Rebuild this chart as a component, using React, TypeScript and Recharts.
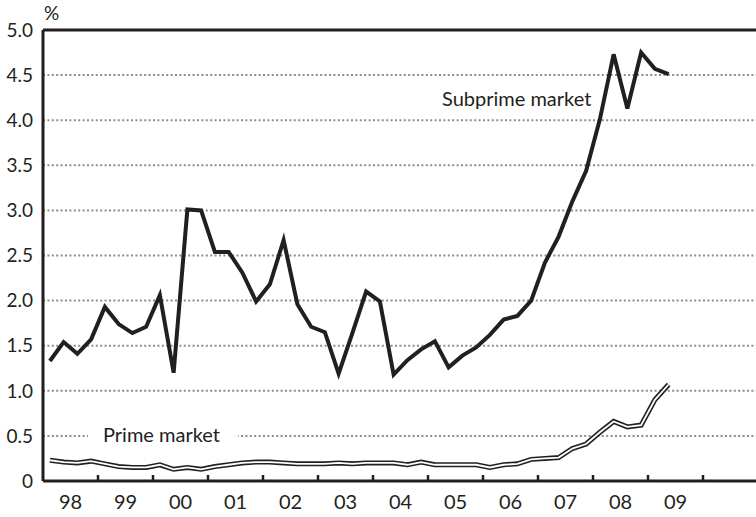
import React from 'react';
import {
  LineChart,
  Line,
  XAxis,
  YAxis,
  CartesianGrid,
  ReferenceLine,
} from 'recharts';

// quarterly, 1998 Q1 .. 2009 Q2
const YEARS = ['98', '99', '00', '01', '02', '03', '04', '05', '06', '07', '08', '09'];
const SUBPRIME = [
  1.33, 1.54, 1.41, 1.57, 1.93, 1.74, 1.64, 1.71, 2.06, 1.2, 3.01, 3.0,
  2.54, 2.54, 2.31, 1.99, 2.18, 2.67, 1.96, 1.71, 1.65, 1.19, 1.64, 2.1,
  1.99, 1.18, 1.34, 1.46, 1.55, 1.26, 1.39, 1.48, 1.62, 1.79, 1.83, 2.0,
  2.42, 2.71, 3.1, 3.44, 4.01, 4.73, 4.13, 4.75, 4.57, 4.51,
];
const PRIME = [
  0.23, 0.21, 0.2, 0.22, 0.19, 0.16, 0.15, 0.15, 0.18, 0.13, 0.15, 0.13,
  0.16, 0.18, 0.2, 0.21, 0.21, 0.2, 0.19, 0.19, 0.19, 0.2, 0.19, 0.2,
  0.2, 0.2, 0.18, 0.21, 0.18, 0.18, 0.18, 0.18, 0.15, 0.18, 0.19, 0.24,
  0.25, 0.26, 0.36, 0.41, 0.54, 0.66, 0.6, 0.62, 0.9, 1.07,
];
const Y_TICKS = [0, 0.5, 1, 1.5, 2, 2.5, 3, 3.5, 4, 4.5, 5];

const data = SUBPRIME.map((v, i) => ({ t: i + 0.5, subprime: v, prime: PRIME[i] }));
// even ticks: year boundaries (marks), odd half-years: year labels
const X_TICKS = Array.from({ length: 24 }, (_, i) => 2 + i * 2);

const FONT = 'Lato, "Open Sans", sans-serif';
const INK = '#231f20';

const XTick = ({ x, y, payload }: any) => {
  const v = payload.value;
  if (v % 4 === 0) {
    return <line x1={x} x2={x} y1={y} y2={y - 6} stroke={INK} strokeWidth={2.5} />;
  }
  return (
    <text x={x} y={y + 28} textAnchor="middle" fontSize={20} fontFamily={FONT} fill={INK}>
      {YEARS[(v - 2) / 4]}
    </text>
  );
};

const App = () => (
  <div style={{ position: 'absolute', left: 0, top: 0, width: 756, height: 517, overflow: 'hidden', background: '#fff' }}>
    <LineChart width={758} height={517} data={data} margin={{ top: 30, right: 0, left: 0, bottom: 0 }}>
      <CartesianGrid vertical={false} stroke="#8c8c8c" strokeDasharray="2 2.4" strokeWidth={2} />
      <XAxis
        dataKey="t"
        type="number"
        domain={[0, 52]}
        ticks={X_TICKS}
        interval={0}
        height={36}
        tickLine={false}
        tickSize={0}
        tickMargin={0}
        axisLine={{ stroke: INK, strokeWidth: 3 }}
        tick={<XTick />}
      />
      <YAxis
        domain={[0, 5]}
        ticks={Y_TICKS}
        width={43}
        tickLine={false}
        tickSize={0}
        tickMargin={10}
        axisLine={{ stroke: INK, strokeWidth: 3 }}
        tickFormatter={(v: number) => (v === 0 ? '0' : v.toFixed(1))}
        tick={{ fontSize: 19, fontFamily: FONT, fill: INK }}
      />
      <ReferenceLine y={5} stroke={INK} strokeWidth={3} />
      <Line dataKey="prime" stroke={INK} strokeWidth={5} dot={false} activeDot={false} isAnimationActive={false} />
      <Line dataKey="prime" stroke="#fff" strokeWidth={1.8} dot={false} activeDot={false} isAnimationActive={false} />
      <Line dataKey="subprime" stroke={INK} strokeWidth={4} dot={false} activeDot={false} isAnimationActive={false} />
    </LineChart>
    <svg width={756} height={517} style={{ position: 'absolute', left: 0, top: 0, pointerEvents: 'none' }}>
      <text x={44} y={20} fontSize={19} fontFamily={FONT} fill={INK}>%</text>
      <text x={442} y={106} fontSize={20} fontFamily={FONT} fill={INK}>Subprime market</text>
      <rect x={88} y={423} width={150} height={24} fill="#fff" />
      <text x={103} y={442} fontSize={20} fontFamily={FONT} fill={INK}>Prime market</text>
    </svg>
  </div>
);

export default App;
